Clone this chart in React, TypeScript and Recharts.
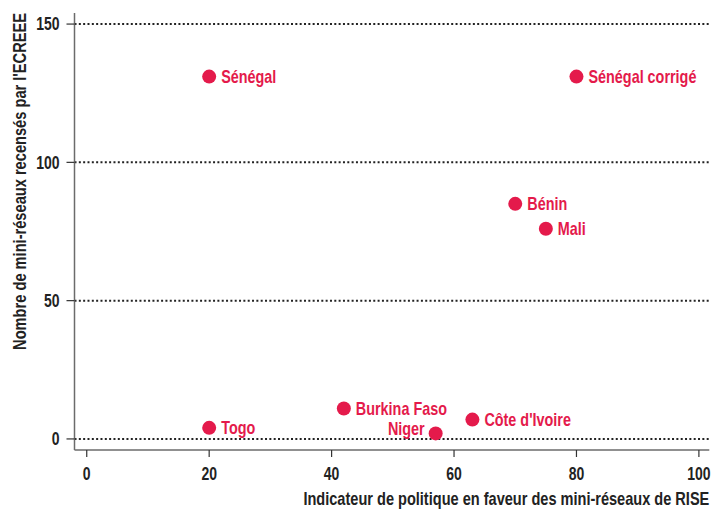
import React from 'react';
import { ScatterChart, Scatter, XAxis, YAxis, CartesianGrid, Label } from 'recharts';

const countries = ['Sénégal', 'Sénégal corrigé', 'Bénin', 'Mali', 'Burkina Faso', 'Côte d\'Ivoire', 'Togo', 'Niger'];
const riseScores = [20, 80, 70, 75, 42, 63, 20, 57];
const miniGrids = [131, 131, 85, 76, 11, 7, 4, 2];
const leftLabeled = ['Niger'];
const xTicks = [0, 20, 40, 60, 80, 100];
const yTicks = [0, 50, 100, 150];
const xTitle = 'Indicateur de politique en faveur des mini-réseaux de RISE';
const yTitle = "Nombre de mini-réseaux recensés par l'ECREEE";

const data = countries.map((name, i) => ({ name, x: riseScores[i], y: miniGrids[i] }));

const FONT = "'Liberation Sans', Arial, sans-serif";
const RED = '#E41A4B';
const AXIS = '#6b6b6b';
const INK = '#222';

const Narrow = ({ x, y, anchor, fill, size, sq = 0.8, rotate, children }: any) => (
  <text
    transform={`translate(${x} ${y})${rotate ? ' rotate(-90)' : ''} scale(${sq} 1)`}
    x={0}
    y={0}
    textAnchor={anchor}
    fill={fill}
    fontFamily={FONT}
    fontWeight="bold"
    fontSize={size}
  >
    {children}
  </text>
);

const PointShape = (props: any) => {
  const { cx, cy, payload } = props;
  const left = leftLabeled.includes(payload.name);
  return (
    <g>
      <circle cx={cx} cy={cy} r={7} fill={RED} />
      <Narrow x={left ? cx - 11 : cx + 12} y={left ? cy + 1.5 : cy + 6} anchor={left ? 'end' : 'start'} fill={RED} size={18}>
        {payload.name}
      </Narrow>
    </g>
  );
};

const XTick = (props: any) => {
  const { x, y, payload } = props;
  return (
    <Narrow x={x} y={y + 12.5} anchor="middle" fill={INK} size={17.5} sq={0.8}>
      {payload.value}
    </Narrow>
  );
};

const YTick = (props: any) => {
  const { x, y, payload } = props;
  return (
    <Narrow x={x} y={y + 6.2} anchor="end" fill={INK} size={17.5} sq={0.8}>
      {payload.value}
    </Narrow>
  );
};

export default function App() {
  return (
    <div style={{ position: 'absolute', left: 0, top: 0, background: '#fff' }}>
      <ScatterChart width={714} height={510} margin={{ top: 13, right: 4.7, bottom: 0, left: 14.5 }}>
        <CartesianGrid vertical={false} horizontalValues={yTicks} stroke="#222" strokeWidth={2} strokeDasharray="2 2.33" />
        <XAxis
          type="number"
          dataKey="x"
          domain={[-2, 101.7]}
          ticks={xTicks}
          height={60}
          tickSize={7}
          tickMargin={10}
          axisLine={{ stroke: AXIS, strokeWidth: 1.5 }}
          tickLine={{ stroke: '#333', strokeWidth: 1.2 }}
          tick={<XTick />}
        >
          <Label
            content={(p: any) => {
              const vb = p.viewBox;
              return (
                <Narrow x={vb.x + vb.width} y={505} anchor="end" fill={INK} size={18.2}>
                  {xTitle}
                </Narrow>
              );
            }}
          />
        </XAxis>
        <YAxis
          type="number"
          dataKey="y"
          domain={[-4, 154]}
          ticks={yTicks}
          width={60}
          tickSize={8}
          tickMargin={7}
          axisLine={{ stroke: AXIS, strokeWidth: 1.5 }}
          tickLine={{ stroke: '#333', strokeWidth: 1.2 }}
          tick={<YTick />}
        >
          <Label
            content={() => (
              <Narrow x={25.5} y={13} rotate anchor="end" fill={INK} size={18.3}>
                {yTitle}
              </Narrow>
            )}
          />
        </YAxis>
        <Scatter data={data} fill={RED} shape={PointShape} isAnimationActive={false} />
      </ScatterChart>
    </div>
  );
}
